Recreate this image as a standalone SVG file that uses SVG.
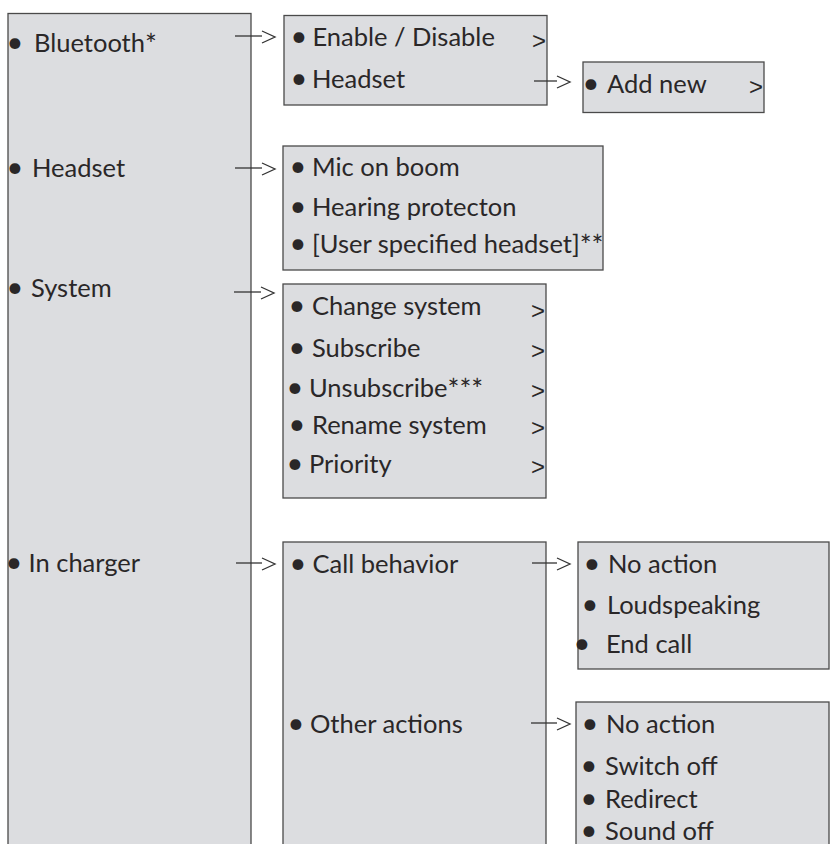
<svg xmlns="http://www.w3.org/2000/svg" width="830" height="844" viewBox="0 0 830 844">
<style>
.box{fill:#dcdde0;stroke:#4a4a4a;stroke-width:1.3}
text{font-family:Lato,"Open Sans","Liberation Sans",sans-serif;font-size:25.5px;font-weight:400;fill:#2a2728}
.b{font-size:29px}
.s{font-size:28px}
.gt{font-family:"Liberation Sans",Arial,sans-serif;font-size:24px}
.conn{fill:none;stroke:#333;stroke-width:1.3}
</style>
<defs>
<marker id="chev" markerUnits="userSpaceOnUse" viewBox="-1 -7 16 16" refX="0" refY="0" markerWidth="16" markerHeight="16" orient="auto" overflow="visible">
<path d="M0,-5 L13,1 L0,7" fill="none" stroke="#333" stroke-width="1.3"/>
</marker>
</defs>
<rect width="830" height="844" fill="#fff"/>

<g id="main">
<rect class="box" x="8" y="13.5" width="243" height="845"/>
<text y="52"><tspan class="b" x="6.5">•</tspan><tspan x="34">Bluetooth</tspan><tspan class="s" dy="3">*</tspan></text>
<text y="177"><tspan class="b" x="6.5">•</tspan><tspan x="32">Headset</tspan></text>
<text y="297"><tspan class="b" x="6.5">•</tspan><tspan x="31">System</tspan></text>
<text y="572"><tspan class="b" x="5.5">•</tspan><tspan x="28.5">In charger</tspan></text>
</g>

<g id="bluetooth">
<rect class="box" x="284" y="15.5" width="263" height="89.5"/>
<text y="46"><tspan class="b" x="290.5">•</tspan><tspan x="312.5">Enable / Disable</tspan></text>
<text class="gt" x="532" y="49">&gt;</text>
<text y="88"><tspan class="b" x="290.5">•</tspan><tspan x="312">Headset</tspan></text>
</g>

<g id="addnew">
<rect class="box" x="583" y="62" width="181" height="50.5"/>
<text y="93"><tspan class="b" x="582.5">•</tspan><tspan x="607">Add new</tspan></text>
<text class="gt" x="749" y="95">&gt;</text>
</g>

<g id="headset">
<rect class="box" x="283" y="146" width="320" height="124"/>
<text y="176"><tspan class="b" x="289.5">•</tspan><tspan x="312">Mic on boom</tspan></text>
<text y="216"><tspan class="b" x="289.5">•</tspan><tspan x="312">Hearing protecton</tspan></text>
<text y="253"><tspan class="b" x="289.5">•</tspan><tspan x="312">[User specified headset]</tspan><tspan class="s" dy="3">**</tspan></text>
</g>

<g id="system">
<rect class="box" x="283" y="284" width="263" height="214"/>
<text y="315"><tspan class="b" x="288.5">•</tspan><tspan x="312">Change system</tspan></text>
<text class="gt" x="531" y="319">&gt;</text>
<text y="357"><tspan class="b" x="288.5">•</tspan><tspan x="312">Subscribe</tspan></text>
<text class="gt" x="531" y="359">&gt;</text>
<text y="397"><tspan class="b" x="286.5">•</tspan><tspan x="309">Unsubscribe</tspan><tspan class="s" dy="3">***</tspan></text>
<text class="gt" x="531" y="399">&gt;</text>
<text y="434"><tspan class="b" x="288.5">•</tspan><tspan x="312">Rename system</tspan></text>
<text class="gt" x="531" y="436">&gt;</text>
<text y="473"><tspan class="b" x="286.5">•</tspan><tspan x="309">Priority</tspan></text>
<text class="gt" x="531" y="475">&gt;</text>
</g>

<g id="incharger">
<rect class="box" x="283" y="542" width="263" height="320"/>
<text y="573"><tspan class="b" x="289.5">•</tspan><tspan x="312.5">Call behavior</tspan></text>
<text y="733"><tspan class="b" x="287.5">•</tspan><tspan x="310">Other actions</tspan></text>
</g>

<g id="callbehavior">
<rect class="box" x="578" y="542" width="251" height="127"/>
<text y="573"><tspan class="b" x="583.5">•</tspan><tspan x="608">No action</tspan></text>
<text y="614"><tspan class="b" x="581.5">•</tspan><tspan x="607">Loudspeaking</tspan></text>
<text y="653"><tspan class="b" x="573.5">•</tspan><tspan x="606">End call</tspan></text>
</g>

<g id="otheractions">
<rect class="box" x="576" y="702" width="253" height="160"/>
<text y="733"><tspan class="b" x="581.5">•</tspan><tspan x="606">No action</tspan></text>
<text y="775"><tspan class="b" x="580.5">•</tspan><tspan x="605">Switch off</tspan></text>
<text y="808"><tspan class="b" x="580.5">•</tspan><tspan x="605">Redirect</tspan></text>
<text y="840"><tspan class="b" x="580.5">•</tspan><tspan x="605">Sound off</tspan></text>
</g>

<g id="connectors">
<path class="conn" d="M235,36 H262" marker-end="url(#chev)"/>
<path class="conn" d="M235,168 H262" marker-end="url(#chev)"/>
<path class="conn" d="M234,292 H261" marker-end="url(#chev)"/>
<path class="conn" d="M236,563 H262" marker-end="url(#chev)"/>
<path class="conn" d="M534,81 H557" marker-end="url(#chev)"/>
<path class="conn" d="M532,563 H557" marker-end="url(#chev)"/>
<path class="conn" d="M531,723 H557" marker-end="url(#chev)"/>
</g>
</svg>
